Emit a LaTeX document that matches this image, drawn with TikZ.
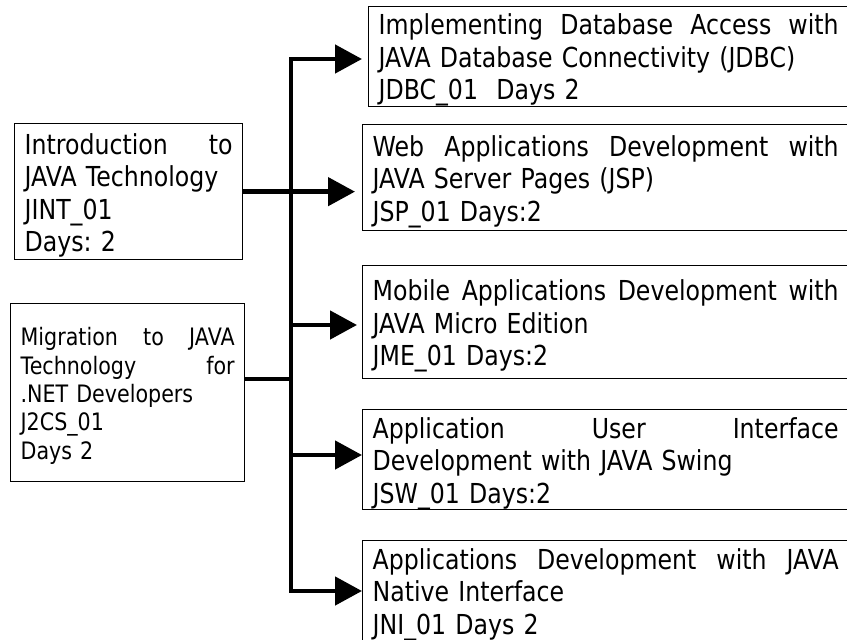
\documentclass[tikz,border=0pt]{standalone}
\usepackage{fontspec}
\setmainfont{DejaVu Sans}[FakeStretch=0.86]
\usepackage{tikz}
\usetikzlibrary{arrows.meta}
\newcommand{\jl}[2][\hsize]{\makebox[#1][s]{\spaceskip=.3333em plus 1fil\relax#2}}
\tikzset{
  crs/.style={draw=black, line width=1.3pt, inner xsep=10pt, inner ysep=0pt,
    align=left, anchor=north west, execute at begin node={\rule{0pt}{1.03em}}},
  big/.style={font=\fontsize{27.5}{32.5}\selectfont},
  sml/.style={font=\fontsize{24}{28.3}\selectfont},
  bus/.style={draw=black, line width=4.7pt},
  br/.style={bus, -{Triangle[length=27pt,width=28pt]}}
}

\begin{document}
\begin{tikzpicture}[x=1pt, y=-1pt]
  \useasboundingbox (0,0) rectangle (847,640);
  \clip (0,0) rectangle (847,640);
  % prerequisite courses
  \node[crs, big, text width=208pt, minimum height=136pt] (intro) at (14,123)
    {\jl{Introduction to}\\JAVA Technology\\JINT\_01\\Days:\ 2};
  \node[crs, sml, text width=214pt, minimum height=178pt] (mig) at (10,303)
    {\jl{Migration to JAVA}\\\jl{Technology for}\\.NET Developers\\J2CS\_01\\Days 2};
  % follow-up courses
  \node[crs, big, text width=520pt, minimum height=99pt] (jdbc) at (368,6)
    {\jl[460pt]{Implementing Database Access with}\\JAVA Database Connectivity (JDBC)\\JDBC\_01\ \ Days 2};
  \node[crs, big, text width=520pt, minimum height=106pt] (jsp) at (362,124)
    {\jl[466pt]{Web Applications Development with}\\JAVA Server Pages (JSP)\\JSP\_01 Days:2};
  \node[crs, big, text width=520pt, minimum height=113pt] (jme) at (362,265)
    {\jl[466pt]{Mobile Applications Development with}\\JAVA Micro Edition\\JME\_01 Days:2};
  \node[crs, big, text width=520pt, minimum height=100pt] (jsw) at (362,409)
    {\jl[466pt]{Application User Interface}\\Development with JAVA Swing\\JSW\_01 Days:2};
  \node[crs, big, text width=520pt, minimum height=100pt] (jni) at (362,540)
    {\jl[466pt]{Applications Development with JAVA}\\Native Interface\\JNI\_01 Days 2};
  % trunk
  \coordinate (b1) at (291,59);
  \coordinate (b3) at (291,325);
  \coordinate (m) at (291,379);
  \coordinate (b4) at (291,455);
  \coordinate (b5) at (291,591);
  \draw[bus, line cap=rect] (b1) -- (b5);
  \draw[bus] (mig.east |- m) -- (m);
  \draw[br, shorten >=7pt] (intro.east) -- (intro.east -| jsp.west);
  \draw[br, shorten >=6pt] (b1) -- (b1 -| jdbc.west);
  \draw[br, shorten >=5pt] (b3) -- (b3 -| jme.west);
  \draw[br] (b4) -- (b4 -| jsw.west);
  \draw[br] (b5) -- (b5 -| jni.west);
\end{tikzpicture}
\end{document}
